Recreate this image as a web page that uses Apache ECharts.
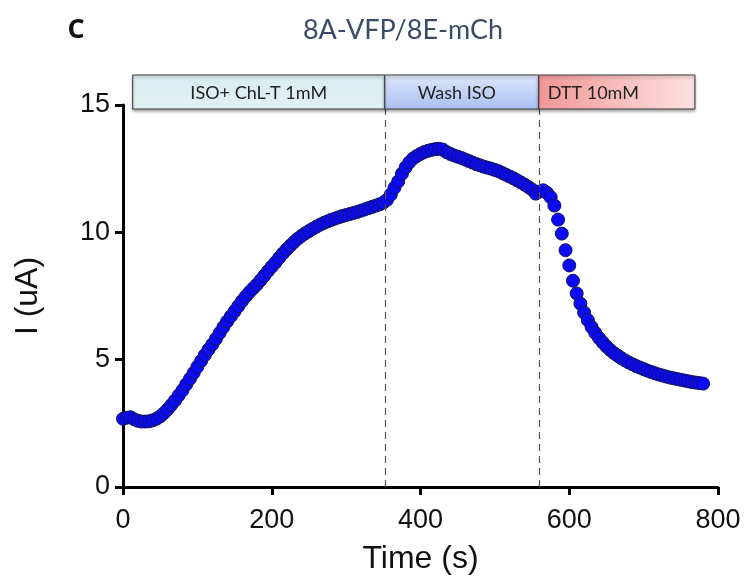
<!DOCTYPE html>
<html>
<head>
<meta charset="utf-8">
<script src="https://cdn.jsdelivr.net/npm/echarts@6/dist/echarts.min.js"></script>
<style>html,body{margin:0;padding:0;background:#fff}#c{width:744px;height:576px}</style>
</head>
<body>
<div id="c"></div>
<script>
// ---- data ----
const times = [0,5,10,15,20,25,30,35,40,45,50,55,60,65,70,75,80,85,90,95,100,105,110,115,120,125,130,135,140,145,150,155,160,165,170,175,180,185,190,195,200,205,210,215,220,225,230,235,240,245,250,255,260,265,270,275,280,285,290,295,300,305,310,315,320,325,330,335,340,345,350,355,360,365,370,375,380,385,390,395,400,405,410,415,420,425,430,435,440,445,450,455,460,465,470,475,480,485,490,495,500,505,510,515,520,525,530,535,540,545,550,555,560,565,570,575,580,585,590,595,600,605,610,615,620,625,630,635,640,645,650,655,660,665,670,675,680,685,690,695,700,705,710,715,720,725,730,735,740,745,750,755,760,765,770,775,780];
const current = [2.68,2.72,2.74,2.66,2.6,2.57,2.57,2.58,2.62,2.68,2.77,2.9,3.05,3.22,3.4,3.6,3.8,4.03,4.25,4.48,4.72,4.95,5.18,5.4,5.6,5.82,6.05,6.28,6.5,6.7,6.9,7.1,7.3,7.48,7.65,7.8,7.95,8.12,8.3,8.48,8.65,8.82,9.0,9.17,9.33,9.48,9.62,9.75,9.86,9.96,10.05,10.14,10.22,10.3,10.37,10.43,10.49,10.54,10.59,10.64,10.68,10.72,10.76,10.8,10.85,10.9,10.95,11.0,11.05,11.1,11.17,11.28,11.48,11.75,12.0,12.3,12.55,12.75,12.9,13.0,13.08,13.15,13.2,13.24,13.27,13.28,13.25,13.15,13.08,13.02,12.97,12.92,12.86,12.8,12.74,12.68,12.63,12.58,12.54,12.5,12.45,12.4,12.33,12.26,12.19,12.12,12.04,11.96,11.87,11.78,11.68,11.52,11.6,11.65,11.55,11.38,11.05,10.5,9.95,9.3,8.7,8.1,7.6,7.2,6.85,6.55,6.28,6.05,5.85,5.68,5.52,5.38,5.26,5.16,5.06,4.97,4.89,4.82,4.75,4.69,4.63,4.57,4.52,4.47,4.42,4.38,4.34,4.3,4.27,4.24,4.21,4.18,4.15,4.12,4.1,4.08,4.06];
const phaseStart = [13, 352, 559];
const phaseEnd = [352, 559, 769];
const phaseLabels = ['ISO+ ChL-T 1mM', 'Wash ISO', 'DTT 10mM'];
const washLines = [352, 559];
const xTicks = [0, 200, 400, 600, 800];
const yTicks = [0, 5, 10, 15];

const points = times.map((t, i) => [t, current[i]]);
const phases = phaseStart.map((s, i) => [s, phaseEnd[i], i]);

const fills = [
  new echarts.graphic.LinearGradient(0, 0, 0, 1, [{offset:0,color:'#d8ecef'},{offset:1,color:'#e2f1f3'}]),
  new echarts.graphic.LinearGradient(0, 0, 0, 1, [{offset:0,color:'#dce6fa'},{offset:1,color:'#a9c0f2'}]),
  new echarts.graphic.LinearGradient(0, 0, 1, 0, [{offset:0,color:'#f39696'},{offset:1,color:'#fde2e2'}])
];
const labelAlign = ['center', 'center', 'left'];

const chart = echarts.init(document.getElementById('c'), null, {renderer: 'canvas'});
chart.setOption({
  animation: false,
  backgroundColor: '#fff',
  grid: {left: 123, right: 26, top: 105, bottom: 89, containLabel: false, outerBoundsMode: 'none'},
  graphic: [
    {type: 'text', x: 76, y: 30, style: {text: 'C', fontSize: 27, fontWeight: 'bold', fontFamily: '"Open Sans", sans-serif', fill: '#111', align: 'center', verticalAlign: 'middle'}},
    {type: 'text', x: 403, y: 30, style: {text: '8A-VFP/8E-mCh', fontSize: 27, fontFamily: 'Lato, sans-serif', fill: '#3b4a68', align: 'center', verticalAlign: 'middle'}}
  ],
  xAxis: {
    type: 'value', min: xTicks[0], max: xTicks[xTicks.length-1], interval: 200,
    name: 'Time (s)', nameLocation: 'middle', nameGap: 56,
    nameTextStyle: {fontSize: 32, color: '#111', fontFamily: 'Liberation Sans'},
    axisLine: {lineStyle: {color: '#000', width: 3}},
    axisTick: {length: 8, lineStyle: {width: 3, color: '#000'}},
    axisLabel: {fontSize: 27, color: '#111', fontFamily: 'Liberation Sans', margin: 20},
    splitLine: {show: false}
  },
  yAxis: {
    type: 'value', min: yTicks[0], max: yTicks[yTicks.length-1], interval: 5,
    name: 'I (uA)', nameLocation: 'middle', nameGap: 79,
    nameTextStyle: {fontSize: 32, color: '#111', fontFamily: 'Liberation Sans'},
    axisLine: {lineStyle: {color: '#000', width: 3}},
    axisTick: {length: 8, lineStyle: {width: 3, color: '#000'}},
    axisLabel: {fontSize: 27, color: '#111', fontFamily: 'Liberation Sans', margin: 13},
    splitLine: {show: false}
  },
  series: [
    {
      type: 'scatter',
      data: points,
      symbol: 'circle',
      symbolSize: 13,
      itemStyle: {color: '#0a0af8', borderColor: '#14145a', borderWidth: 1, opacity: 1},
      z: 3,
      markLine: {
        silent: true, symbol: ['none', 'none'], label: {show: false},
        lineStyle: {type: [7, 5], color: '#555', width: 1.2},
        data: washLines.map(v => ({xAxis: v}))
      }
    },
    {
      type: 'custom',
      clip: false,
      z: 5,
      data: phases,
      encode: {x: [0, 1]},
      renderItem: function (params, api) {
        const i = api.value(2);
        const a = api.coord([api.value(0), 15]);
        const b = api.coord([api.value(1), 15]);
        const top = a[1] - 30, h = 34;
        const w = b[0] - a[0];
        const tx = labelAlign[i] === 'left' ? a[0] + 9 : a[0] + w / 2 - (i === 1 ? 5 : 0);
        return {
          type: 'group',
          children: [
            {type: 'rect', shape: {x: a[0], y: top, width: w, height: h},
             style: {fill: fills[i], stroke: '#3a3a3a', lineWidth: 1,
                     shadowColor: 'rgba(0,0,0,0.35)', shadowBlur: 3, shadowOffsetY: 2}},
            {type: 'text', x: tx, y: top + h / 2 + 1,
             style: {text: phaseLabels[i], fill: '#222', fontSize: 18, fontFamily: 'Lato, sans-serif',
                     align: labelAlign[i], verticalAlign: 'middle'}}
          ]
        };
      }
    }
  ]
});
</script>
</body>
</html>
